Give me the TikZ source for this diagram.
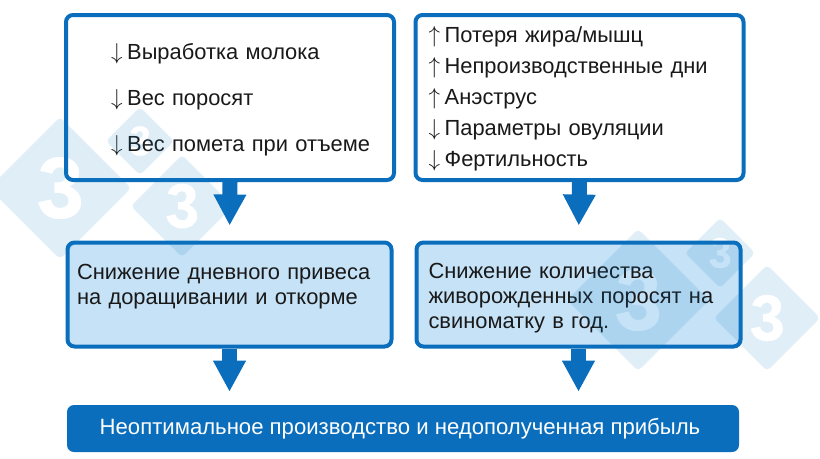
\documentclass[tikz,border=0pt]{standalone}
\usepackage{fontspec}
\setmainfont{Liberation Sans}
\usetikzlibrary{arrows.meta}

\newlength\unitpx
\setlength\unitpx{0.75pt}

\definecolor{boxblue}{HTML}{0A6EBD}
\definecolor{paleblue}{HTML}{C5E2F7}
\definecolor{markblue}{HTML}{0A78C0}

\tikzset{
    flowbox/.style={draw=boxblue, line width=4\unitpx, rounded corners=7\unitpx, align=left,
        inner sep=0pt, text=black!90, font=\fontsize{16.4}{18.75}\selectfont},
    listbox/.style={flowbox, fill=white, minimum width=328\unitpx, minimum height=165\unitpx},
    effectbox/.style={flowbox, fill=paleblue, minimum width=324\unitpx, minimum height=104\unitpx},
    resultbox/.style={fill=boxblue, rounded corners=7\unitpx, text=white, minimum width=672\unitpx,
        minimum height=47\unitpx, font=\fontsize{16.6}{18.75}\selectfont},
    flowarrow/.style={draw=boxblue, line width=15\unitpx, -{Triangle[length=23.25pt,width=23pt]}},
}

\newcommand{\upmark}{$\uparrow$\kern3.5pt}
\newcommand{\downmark}{$\downarrow$\kern3.5pt}
\newcommand{\toppad}[1]{\rule{0pt}{#1}}

\newcommand{\wmark}[3]{
    \begin{scope}[shift={(#1,#2)}, scale=#3]
        \fill [markblue, opacity=0.13, even odd rule, rounded corners=3pt]
            (0,-1) -- (1,0) -- (0,1) -- (-1,0) -- cycle [sharp corners]
            (-0.28,-0.24) .. controls (-0.25,-0.38) and (-0.13,-0.44) .. (0,-0.44)
            .. controls (0.17,-0.44) and (0.27,-0.34) .. (0.27,-0.22)
            .. controls (0.27,-0.13) and (0.22,-0.06) .. (0.14,-0.02)
            .. controls (0.24,0.02) and (0.30,0.10) .. (0.30,0.2)
            .. controls (0.30,0.35) and (0.17,0.44) .. (0,0.44)
            .. controls (-0.16,0.44) and (-0.27,0.36) .. (-0.31,0.2)
            -- (-0.13,0.16) .. controls (-0.11,0.24) and (-0.06,0.28) .. (0,0.28)
            .. controls (0.07,0.28) and (0.12,0.24) .. (0.12,0.18)
            .. controls (0.12,0.11) and (0.06,0.07) .. (-0.02,0.07)
            -- (-0.08,0.07) -- (-0.08,-0.08) -- (-0.03,-0.08)
            .. controls (0.05,-0.08) and (0.09,-0.13) .. (0.09,-0.19)
            .. controls (0.09,-0.25) and (0.05,-0.29) .. (0,-0.29)
            .. controls (-0.05,-0.29) and (-0.09,-0.26) .. (-0.11,-0.2) -- cycle;
    \end{scope}
}

\begin{document}
\begin{tikzpicture}[x=\unitpx, y=-\unitpx]
    \useasboundingbox (0,0) rectangle (820,458);

    \node [listbox, text width=238\unitpx] (losses) at (230,97.5) {%
        \toppad{15pt}\downmark Выработка молока\\[15.75pt]
        \downmark Вес поросят\\[15.75pt]
        \mbox{\downmark Вес помета при отъеме}};
    \node [listbox, text width=302\unitpx] (repro) at (579.5,97.5) {%
        \toppad{14pt}\upmark Потеря жира/мышц\\[4.5pt]
        \upmark Непроизводственные дни\\[4.5pt]
        \upmark Анэструс\\[4.5pt]
        \downmark Параметры овуляции\\[4.5pt]
        \downmark Фертильность};

    \node [effectbox, text width=305\unitpx] (growth) at (229.5,294.5) {%
        \toppad{20pt}Снижение дневного привеса\\
        на доращивании и откорме\\
        \strut};
    \node [effectbox, text width=300\unitpx] (litter) at (578.5,294.5) {%
        \toppad{16.5pt}Снижение количества\\
        живорожденных поросят на\\
        свиноматку в год.};

    \node [resultbox] (profit) at (403,428.5) {\kern-4.5pt Неоптимальное производство и недополученная прибыль};

    \draw [flowarrow, shorten >=15\unitpx] (losses.south) -- (growth.north);
    \draw [flowarrow, shorten >=15\unitpx] (repro.south) -- (litter.north);
    \draw [flowarrow, shorten >=13\unitpx] (growth.south) -- (growth.south |- profit.north);
    \draw [flowarrow, shorten >=13\unitpx] (litter.south) -- (litter.south |- profit.north);

    % watermark
    \wmark{60}{188}{71}
    \wmark{140}{141}{34}
    \wmark{182}{206}{51}
    \wmark{638}{300}{71}
    \wmark{720}{253}{35}
    \wmark{767}{318}{53}
\end{tikzpicture}
\end{document}
